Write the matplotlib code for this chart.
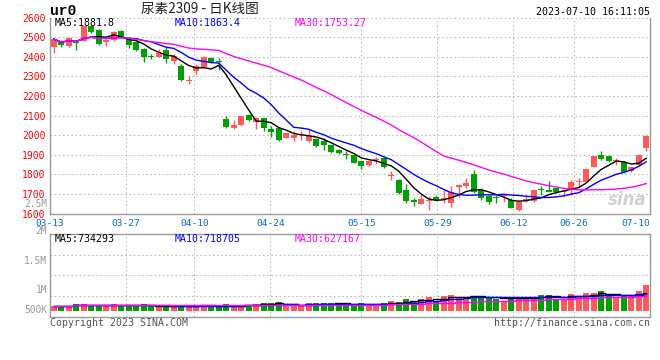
import numpy as np
import pandas as pd
import matplotlib
matplotlib.use('Agg')
import matplotlib.pyplot as plt

# ---------------- data ----------------
date_labels = ['03-13', '03-27', '04-10', '04-24', '05-15', '05-29', '06-12', '06-26', '07-10']
date_index = [0, 10, 19, 29, 41, 51, 61, 69, 79]

opens = [2450, 2474, 2457, 2470, 2480, 2555, 2537, 2474, 2486, 2533,
         2494, 2475, 2440, 2401, 2398, 2432, 2378, 2355, 2278, 2326,
         2350, 2394, 2375, 2080, 2034, 2051, 2105, 2066, 2085, 2029,
         2034, 1986, 1986, 1999, 1969, 1981, 1969, 1947, 1926, 1901,
         1896, 1867, 1846, 1874, 1884, 1793, 1773, 1722, 1671, 1651,
         1664, 1686, 1675, 1652, 1736, 1738, 1801, 1720, 1690, 1679,
         1688, 1669, 1618, 1668, 1664, 1721, 1720, 1729, 1711, 1720,
         1762, 1763, 1837, 1900, 1895, 1870, 1863, 1815, 1846, 1935]
highs = [2495, 2484, 2500, 2484, 2556, 2560, 2540, 2488, 2530, 2535,
         2498, 2478, 2442, 2412, 2440, 2447, 2415, 2362, 2300, 2364,
         2403, 2396, 2392, 2097, 2075, 2100, 2110, 2090, 2088, 2046,
         2036, 2013, 2020, 2020, 2029, 1983, 1978, 1949, 1928, 1918,
         1898, 1869, 1870, 1887, 1890, 1819, 1775, 1748, 1680, 1697,
         1688, 1695, 1720, 1738, 1748, 1780, 1820, 1732, 1695, 1695,
         1695, 1678, 1662, 1695, 1722, 1738, 1767, 1732, 1720, 1772,
         1780, 1830, 1895, 1921, 1898, 1883, 1866, 1838, 1902, 2003]
lows = [2420, 2450, 2452, 2434, 2478, 2520, 2462, 2455, 2480, 2498,
        2446, 2430, 2372, 2390, 2396, 2366, 2364, 2275, 2260, 2313,
        2348, 2370, 2332, 2035, 2029, 2048, 2074, 2032, 2020, 1991,
        1972, 1984, 1970, 1977, 1966, 1940, 1926, 1910, 1905, 1879,
        1856, 1825, 1844, 1855, 1830, 1773, 1700, 1654, 1640, 1648,
        1620, 1668, 1656, 1635, 1686, 1729, 1703, 1669, 1650, 1652,
        1660, 1626, 1615, 1660, 1660, 1695, 1712, 1703, 1686, 1695,
        1738, 1760, 1835, 1871, 1862, 1849, 1806, 1812, 1844, 1921]
closes = [2490, 2458, 2496, 2468, 2555, 2525, 2466, 2486, 2525, 2503,
          2462, 2432, 2401, 2400, 2418, 2390, 2406, 2280, 2281, 2355,
          2398, 2373, 2372, 2040, 2054, 2097, 2076, 2088, 2037, 2017,
          1974, 2011, 2003, 2001, 1994, 1943, 1952, 1913, 1909, 1899,
          1858, 1841, 1867, 1876, 1836, 1795, 1705, 1662, 1659, 1676,
          1667, 1671, 1678, 1712, 1746, 1755, 1712, 1681, 1657, 1678,
          1690, 1630, 1660, 1669, 1720, 1720, 1712, 1712, 1712, 1763,
          1763, 1828, 1892, 1880, 1866, 1871, 1810, 1835, 1900, 1993]
volumes_k = [197, 197, 197, 281, 281, 238, 238, 238, 281, 238,
             238, 197, 281, 197, 155, 155, 155, 238, 238, 238,
             238, 155, 155, 281, 238, 238, 238, 281, 323, 323,
             365, 197, 197, 197, 323, 323, 323, 323, 238, 323,
             238, 323, 238, 238, 323, 406, 365, 490, 406, 490,
             595, 426, 636, 678, 595, 595, 636, 595, 552, 510,
             426, 552, 552, 595, 595, 678, 678, 510, 510, 720,
             574, 742, 760, 830, 617, 532, 617, 617, 825, 1077]
volumes = [v * 1000 for v in volumes_k]

price_ticks = [1600, 1700, 1800, 1900, 2000, 2100, 2200, 2300, 2400, 2500, 2600]
vol_labels = ['2.5M', '2M', '1.5M', '1M', '500K']

# ---------------- style ----------------
RED = '#ff5a5a'
GREEN = '#00a000'
GRID = '#b4b4b4'
SPINE = '#9a9a9a'
MONO = 'DejaVu Sans Mono'
CJK = ['Noto Sans CJK SC', 'DejaVu Sans']
DOT = (0, (1.4, 2.6))

W, H = 660, 360
fig = plt.figure(figsize=(6.6, 3.6), dpi=100)
fig.patch.set_facecolor('white')


def fx(px):
    return px / W


def fy(py):
    return 1 - py / H


n = len(closes)
x = np.arange(n)
o = np.array(opens, float)
c = np.array(closes, float)
h = np.array(highs, float)
l = np.array(lows, float)
up = c >= o
cols = [RED if u else GREEN for u in up]

tick_pos = [-0.5 + k * n / (n - 1) for k in date_index]

# ---------------- price panel ----------------
ax = fig.add_axes([fx(50), fy(213.5), 600 / W, (213.5 - 17.5) / H])
ax.set_xlim(-0.5, n - 0.5)
ax.set_ylim(1600, 2600)
for yv in price_ticks[1:]:
    ax.axhline(yv, color=GRID, lw=0.75, ls=DOT, zorder=0)
for tp in tick_pos[1:-1]:
    ax.axvline(tp, color=GRID, lw=0.75, ls=DOT, zorder=0)

ax.vlines(x, l, h, colors=cols, lw=1.0, zorder=2)
body = np.maximum(np.abs(c - o), 5)
ax.bar(x, body, bottom=np.minimum(o, c), width=0.8, color=cols, lw=0, zorder=3)

cs = pd.Series(c)
ax.plot(x, cs.rolling(5, min_periods=1).mean(), color='black', lw=1.0, zorder=4)
ax.plot(x, cs.rolling(10, min_periods=1).mean(), color='#0000ff', lw=1.0, zorder=4)
ax.plot(x, cs.rolling(30, min_periods=1).mean(), color='#ff00ff', lw=1.0, zorder=4)

ax.set_yticks(price_ticks)
ax.set_yticklabels([str(t) for t in price_ticks], color='#ff0000', fontsize=7.0, family=MONO)
ax.set_xticks(tick_pos)
ax.set_xticklabels(date_labels, color='#0a6ccf', fontsize=6.8, family=MONO)
ax.get_xticklabels()[-1].set_horizontalalignment('right')
ax.tick_params(axis='both', length=0)
ax.tick_params(axis='y', pad=3)
ax.tick_params(axis='x', pad=3.6)
ax.spines['top'].set_visible(False)
for s in ['left', 'right', 'bottom']:
    ax.spines[s].set_color(SPINE)
    ax.spines[s].set_linewidth(1.0)

ax.text(0.995, 0.07, 'sina', fontsize=12, fontweight='bold', style='italic',
        color='#d0d0d0', transform=ax.transAxes, ha='right', va='center', zorder=1)

fig.text(fx(55), fy(22.5), 'MA5:1881.8', color='black', fontsize=7.1, family=MONO, va='center')
fig.text(fx(175), fy(22.5), 'MA10:1863.4', color='#0000ff', fontsize=7.1, family=MONO, va='center')
fig.text(fx(295), fy(22.5), 'MA30:1753.27', color='#ff00ff', fontsize=7.1, family=MONO, va='center')

# ---------------- volume panel ----------------
axv = fig.add_axes([fx(50), fy(317), 600 / W, 83 / H])
axv.set_xlim(-0.5, n - 0.5)
vmin, vmax = -264000, 3214000
axv.set_ylim(vmin, vmax)
for k in (1, 2, 3):
    axv.axhline(vmin + k * (vmax - vmin) / 4, color=GRID, lw=0.75, ls=DOT, zorder=0)
for tp in tick_pos[1:-1]:
    axv.axvline(tp, color=GRID, lw=0.75, ls=DOT, zorder=0)
axv.bar(x, volumes, width=0.8, color=cols, lw=0, zorder=2)
vs = pd.Series(volumes, dtype=float)
axv.step(x, vs.rolling(5, min_periods=1).mean(), where='mid', color='black', lw=1.0, zorder=3)
axv.step(x, vs.rolling(10, min_periods=1).mean(), where='mid', color='#0000ff', lw=1.0, zorder=3)
axv.step(x, vs.rolling(30, min_periods=1).mean(), where='mid', color='#ff00ff', lw=1.0, zorder=3)
axv.set_xticks([])
axv.set_yticks([])
for s in axv.spines.values():
    s.set_color(SPINE)
    s.set_linewidth(1.0)

for lab, py in zip(vol_labels, [204, 231, 261, 290, 310]):
    fig.text(fx(47), fy(py), lab, color='#9a9a9a', fontsize=6.9, family=MONO, ha='right', va='center')

fig.text(fx(55), fy(238.5), 'MA5:734293', color='black', fontsize=7.1, family=MONO, va='center')
fig.text(fx(175), fy(238.5), 'MA10:718705', color='#0000ff', fontsize=7.1, family=MONO, va='center')
fig.text(fx(295), fy(238.5), 'MA30:627167', color='#ff00ff', fontsize=7.1, family=MONO, va='center')

# ---------------- header / footer ----------------
fig.text(fx(50), fy(11), 'ur0', color='black', fontsize=10.5, family='Liberation Mono',
         fontweight='bold', va='center', ha='left')
fig.text(fx(200), fy(9.5), '尿素2309 - 日K线图', color='#222222', fontsize=9.8, family=CJK,
         va='center', ha='center')
fig.text(fx(650), fy(12), '2023-07-10 16:11:05', color='black', fontsize=7.2, family=MONO,
         va='center', ha='right')
fig.text(fx(50), fy(323.5), 'Copyright 2023 SINA.COM', color='#555555', fontsize=7.1, family=MONO,
         va='center', ha='left')
fig.text(fx(650), fy(323.5), 'http://finance.sina.com.cn', color='#555555', fontsize=7.1, family=MONO,
         va='center', ha='right')

fig.savefig('out.png', dpi=100, facecolor='white')
